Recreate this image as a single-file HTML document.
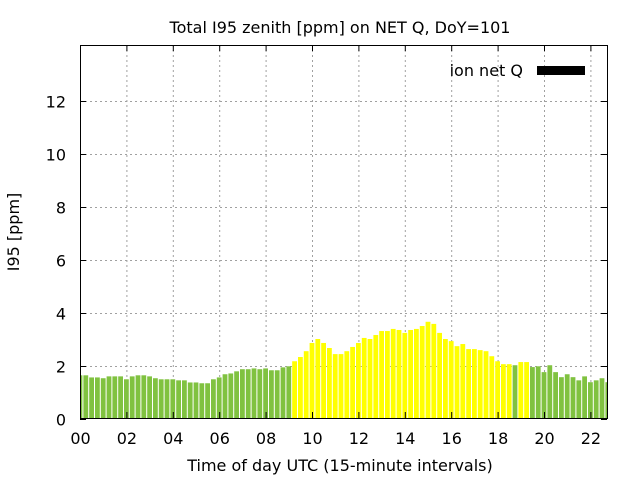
<!DOCTYPE html>
<html><head><meta charset="utf-8"><style>
body{margin:0;background:#fff;}
svg{display:block;font-family:"DejaVu Sans","Liberation Sans",sans-serif;}
</style></head><body>
<svg id="s" width="640" height="480" viewBox="0 0 640 480" xmlns="http://www.w3.org/2000/svg">
<rect width="640" height="480" fill="#fff"/>
<g id="grid" stroke="#a0a0a0" stroke-width="1" stroke-dasharray="2,3"></g>
<g id="bars"></g>
<g id="ticks" stroke="#000" stroke-width="1"></g>
<rect x="80.5" y="45.5" width="527" height="373" fill="none" stroke="#000" stroke-width="1"/>
<g id="labels" font-size="16" fill="#000"></g>
<text x="340" y="33" font-size="16" text-anchor="middle">Total I95 zenith [ppm] on NET Q, DoY=101</text>
<text x="340" y="471" font-size="16" text-anchor="middle">Time of day UTC (15-minute intervals)</text>
<text x="19" y="232" font-size="16" text-anchor="middle" transform="rotate(-90 19 232)">I95 [ppm]</text>
<text x="523" y="76" font-size="16" text-anchor="end">ion net Q</text>
<rect x="537" y="66" width="48" height="9" fill="#000"/>
</svg>
<script>
(function(){
var NS="http://www.w3.org/2000/svg";
function el(p,t,a){var e=document.createElementNS(NS,t);for(var k in a)e.setAttribute(k,a[k]);p.appendChild(e);return e;}
var v=[1.63,1.63,1.55,1.55,1.52,1.59,1.59,1.59,1.48,1.59,1.63,1.63,1.59,1.52,1.48,1.48,1.48,1.44,1.44,1.36,1.36,1.33,1.33,1.48,1.55,1.67,1.70,1.78,1.86,1.86,1.89,1.86,1.89,1.82,1.82,1.93,1.97,2.16,2.32,2.54,2.85,3.0,2.85,2.66,2.43,2.43,2.54,2.70,2.85,3.04,3.0,3.15,3.30,3.30,3.38,3.34,3.23,3.34,3.38,3.49,3.65,3.57,3.23,3.0,2.92,2.73,2.81,2.62,2.62,2.58,2.54,2.35,2.16,2.05,2.05,2.01,2.13,2.13,1.94,1.97,1.75,2.01,1.75,1.56,1.67,1.56,1.44,1.59,1.37,1.44,1.52,1.37];
var X0=80,HX=23.2,Y0=418.5,SY=26.5;
var g=document.getElementById('grid'),b=document.getElementById('bars'),t=document.getElementById('ticks'),l=document.getElementById('labels');
for(var h=0;h<=22;h+=2){var x=X0+h*HX+0.5;
 if(h>0)el(g,'line',{x1:x,y1:45,x2:x,y2:418});
 el(t,'line',{x1:x,y1:418,x2:x,y2:412});el(t,'line',{x1:x,y1:45,x2:x,y2:51});
 var tx=el(l,'text',{x:x,y:444,'text-anchor':'middle'});tx.textContent=(h<10?'0':'')+h;}
for(var y=0;y<=12;y+=2){var yy=Math.round(Y0-y*SY)+0.5;
 if(y>0)el(g,'line',{x1:80,y1:yy,x2:607,y2:yy});
 el(t,'line',{x1:80,y1:yy,x2:86,y2:yy});el(t,'line',{x1:607,y1:yy,x2:601,y2:yy});
 var ty=el(l,'text',{x:66,y:yy+6,'text-anchor':'end'});ty.textContent=y;}
var S=5.8,W=4.8;
for(var i=0;i<v.length;i++){var c=X0+i*S,xa=Math.max(80.5,c-W/2),xb=Math.min(607,c+W/2);if(xb<=xa)continue;
 var yel=(i>=37&&i<=74)||i==76||i==77;
 var tp=Y0-v[i]*SY;
 el(b,'rect',{x:xa,y:tp,width:xb-xa,height:418-tp,fill:yel?'#ffff00':'#80c240'});}
})();
</script>
</body></html>
